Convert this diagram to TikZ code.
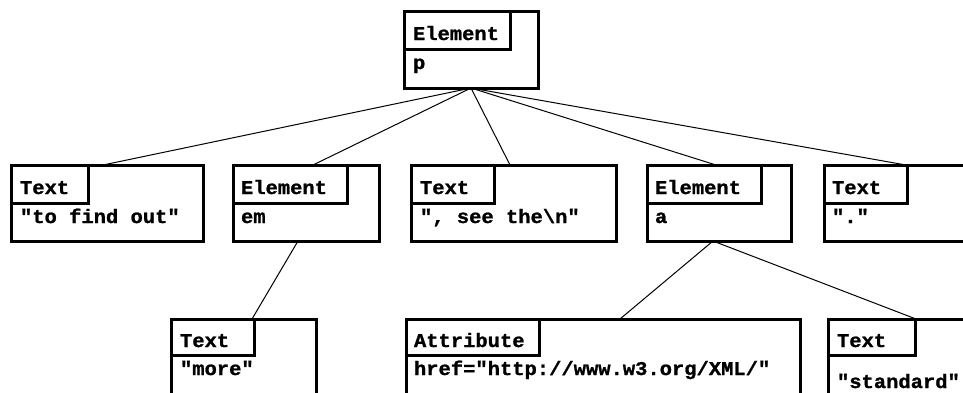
\documentclass[tikz,border=0pt]{standalone}
\usepackage{fontspec}
\newfontfamily\xmono[FakeStretch=1.05,BoldFont={Liberation Mono Bold},BoldFeatures={FakeBold=1.2}]{Liberation Mono}
\usetikzlibrary{calc}
\tikzset{
  xbox/.style={draw, line width=3pt, inner sep=0pt, outer sep=0pt, anchor=north west},
  xtxt/.style={font=\xmono\bfseries\fontsize{19.5}{24}\selectfont, anchor=base west, inner sep=0pt, outer sep=0pt},
  conn/.style={line width=1pt}
}
\begin{document}
\begin{tikzpicture}[x=1pt,y=-1pt]
\useasboundingbox (0,0) rectangle (963,392);
\fill[white] (0,0) rectangle (963,392);
\clip (0,0) rectangle (963,392);
% top: Element p
\node[xbox, minimum width=134pt, minimum height=77pt] (P) at (404,11) {};
\node[xbox, minimum width=106pt, minimum height=38pt] (Pl) at (404,11) {};
\node[xtxt] (Pa) at (413,40) {Element};
\node[xtxt] (Pb) at (413,69) {p};
% row 2
\node[xbox, minimum width=192pt, minimum height=76pt] (T1) at (11,165) {};
\node[xbox, minimum width=77pt, minimum height=38pt] (T1l) at (11,165) {};
\node[xtxt] (T1a) at (20,194) {Text};
\node[xtxt] (T1b) at (20,223) {"to find out"};
\node[xbox, minimum width=146pt, minimum height=76pt] (EM) at (233,165) {};
\node[xbox, minimum width=114pt, minimum height=38pt] (EMl) at (233,165) {};
\node[xtxt] (EMa) at (241,194) {Element};
\node[xtxt] (EMb) at (241,223) {em};
\node[xbox, minimum width=205pt, minimum height=76pt] (T2) at (411,165) {};
\node[xbox, minimum width=83pt, minimum height=38pt] (T2l) at (411,165) {};
\node[xtxt] (T2a) at (420,194) {Text};
\node[xtxt] (T2b) at (420,223) {", see the\textbackslash n"};
\node[xbox, minimum width=144pt, minimum height=76pt] (A) at (647,165) {};
\node[xbox, minimum width=114pt, minimum height=38pt] (Al) at (647,165) {};
\node[xtxt] (Aa) at (655,194) {Element};
\node[xtxt] (Ab) at (655,223) {a};
\node[xbox, minimum width=176pt, minimum height=76pt] (T3) at (824,165) {};
\node[xbox, minimum width=83pt, minimum height=38pt] (T3l) at (824,165) {};
\node[xtxt] (T3a) at (832,194) {Text};
\node[xtxt] (T3b) at (832,223) {"."};
% row 3
\node[xbox, minimum width=145pt, minimum height=102pt] (MO) at (171,319) {};
\node[xbox, minimum width=83pt, minimum height=36pt] (MOl) at (171,319) {};
\node[xtxt] (MOa) at (180,347) {Text};
\node[xtxt] (MOb) at (180,375) {"more"};
\node[xbox, minimum width=394pt, minimum height=102pt] (AT) at (406,319) {};
\node[xbox, minimum width=133pt, minimum height=36pt] (ATl) at (406,319) {};
\node[xtxt] (ATa) at (414,347) {Attribute};
\node[xtxt] (ATb) at (414,375) {href="http://www.w3.org/XML/"};
\node[xbox, minimum width=172pt, minimum height=102pt] (ST) at (828,319) {};
\node[xbox, minimum width=87pt, minimum height=36pt] (STl) at (828,319) {};
\node[xtxt] (STa) at (837,347) {Text};
\node[xtxt] (STb) at (837,388) {"standard"};
% connectors
\coordinate (hub) at ($(P.south west)+(67,0)$);
\draw[conn] (hub) -- ($(T1.north west)+(92,0)$);
\draw[conn] (hub) -- ($(EM.north west)+(80,0)$);
\draw[conn] (hub) -- ($(T2.north west)+(99,0)$);
\draw[conn] (hub) -- ($(A.north west)+(69,0)$);
\draw[conn] (hub) -- ($(T3.north west)+(82,0)$);
\draw[conn] ($(EM.south west)+(65,0)$) -- ($(MO.north west)+(81,0)$);
\coordinate (ahub) at ($(A.south west)+(66,0)$);
\draw[conn] (ahub) -- ($(AT.north west)+(214,0)$);
\draw[conn] (ahub) -- ($(ST.north west)+(88,0)$);
\end{tikzpicture}
\end{document}
